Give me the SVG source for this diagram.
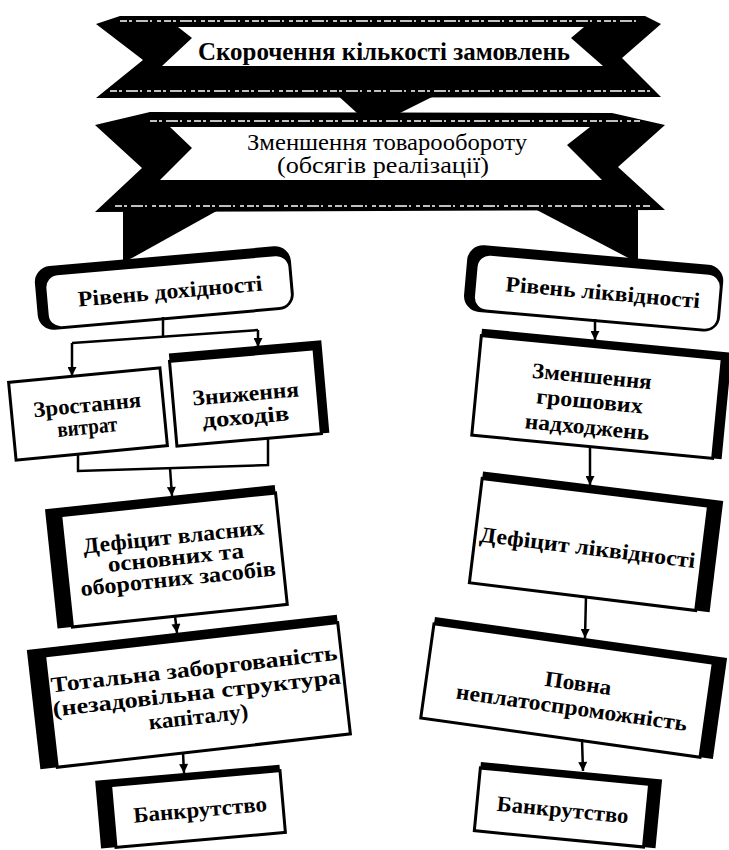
<svg xmlns="http://www.w3.org/2000/svg" width="729" height="850" viewBox="0 0 729 850">
  <defs>
    <marker id="arr" viewBox="0 0 10 10" refX="10" refY="5" markerWidth="10" markerHeight="9" markerUnits="userSpaceOnUse" orient="auto">
      <path d="M0,0 L10,5 L0,10 z" fill="#000"/>
    </marker>
    <style>
      .ink{fill:#000}
      .paper{fill:#fff;stroke:#000;stroke-width:3}
      .blank{fill:#fff}
      .speck{stroke:#fff;stroke-width:1.4;stroke-dasharray:7 2 3 4 12 2 2 5 4 3;fill:none}
      .conn{stroke:#000;stroke-width:2.5;fill:none}
      .arrow{marker-end:url(#arr)}
      text{font-family:"Liberation Serif","Times New Roman",serif;text-anchor:middle;fill:#000}
      .lbl{font-size:22px;font-weight:bold}
      .title{font-size:26px;font-weight:bold}
      .sub{font-size:23px}
    </style>
  </defs>

  <rect x="0" y="0" width="729" height="850" fill="#fff"/>

  <!-- top ribbon -->
  <g id="n-orders">
    <polygon class="ink" points="96,24 120,16 645,16 661,24 622,58 661,97 96,98 143,60"/>
    <polygon class="blank" points="178,27 584,27 571,38 603,66 162,66 192,38"/>
    <line class="speck" x1="120" y1="21" x2="640" y2="21"/>
    <line class="speck" x1="110" y1="91" x2="650" y2="91"/>
    <text class="title" x="384" y="60" textLength="372" lengthAdjust="spacingAndGlyphs">Скорочення кількості замовлень</text>
  </g>

  <!-- second ribbon with its two legs -->
  <g id="n-turnover">
    <polygon class="ink" points="123,205 222,208 132,258 123,262"/>
    <polygon class="ink" points="533,208 638,208 638,263"/>
    <polygon class="ink" points="95,125 150,112 612,113 665,125 618,167 665,210 95,212 142,168"/>
    <polygon class="blank" points="170,127 590,127 567,145 602,180 160,180 192,148"/>
    <line class="speck" x1="150" y1="121" x2="640" y2="121"/>
    <line class="speck" x1="115" y1="206" x2="650" y2="206"/>
    <text class="sub" x="387" y="150" textLength="280" lengthAdjust="spacingAndGlyphs">Зменшення товарообороту</text>
    <text class="sub" x="383" y="173" textLength="212" lengthAdjust="spacingAndGlyphs">(обсягів  реалізації)</text>
  </g>

  <!-- left branch -->
  <g id="n-profit" transform="rotate(-5 165 290)">
    <rect class="ink" x="36" y="256" width="257" height="64" rx="16"/>
    <rect class="blank" x="47" y="266" width="243" height="51" rx="12"/>
    <text class="lbl" x="170" y="299" textLength="185" lengthAdjust="spacingAndGlyphs">Рівень дохідності</text>
  </g>

  <g id="n-costs" transform="rotate(-5.5 88 414)">
    <rect class="paper" x="12" y="375" width="152" height="78"/>
    <text class="lbl" x="88" y="412" textLength="108" lengthAdjust="spacingAndGlyphs">Зростання</text>
    <text class="lbl" x="86" y="434" textLength="60" lengthAdjust="spacingAndGlyphs">витрат</text>
  </g>

  <g id="n-income" transform="rotate(-5 245.5 398)">
    <rect class="ink" x="173" y="347" width="153" height="93"/>
    <rect class="paper" x="173" y="355" width="145" height="85"/>
    <text class="lbl" x="246" y="401" textLength="107" lengthAdjust="spacingAndGlyphs">Зниження</text>
    <text class="lbl" x="244" y="424" textLength="87" lengthAdjust="spacingAndGlyphs">доходів</text>
  </g>

  <g id="n-own-funds" transform="rotate(-6 174 560)">
    <rect class="ink" x="51" y="496" width="231" height="120"/>
    <rect class="paper" x="66" y="504" width="216" height="112"/>
    <text class="lbl" x="176" y="544" textLength="182" lengthAdjust="spacingAndGlyphs">Дефіцит власних</text>
    <text class="lbl" x="176" y="565" textLength="137" lengthAdjust="spacingAndGlyphs">основних та</text>
    <text class="lbl" x="176" y="586" textLength="196" lengthAdjust="spacingAndGlyphs">оборотних засобів</text>
  </g>

  <g id="n-debt" transform="rotate(-6.5 197 695)">
    <rect class="ink" x="33" y="631" width="312" height="120"/>
    <rect class="paper" x="50" y="639" width="295" height="112"/>
    <text class="lbl" x="197" y="676" textLength="288" lengthAdjust="spacingAndGlyphs">Тотальна заборгованість</text>
    <text class="lbl" x="197" y="700" textLength="290" lengthAdjust="spacingAndGlyphs">(незадовільна структура</text>
    <text class="lbl" x="196" y="724" textLength="100" lengthAdjust="spacingAndGlyphs">капіталу)</text>
  </g>

  <g id="n-bankrupt-left" transform="rotate(-5 198 809)">
    <rect class="ink" x="98" y="772" width="185" height="68"/>
    <rect class="paper" x="113" y="778" width="170" height="62"/>
    <text class="lbl" x="200" y="817" textLength="134" lengthAdjust="spacingAndGlyphs">Банкрутство</text>
  </g>

  <!-- right branch -->
  <g id="n-liquidity" transform="rotate(5 595 290)">
    <rect class="ink" x="465" y="255" width="257" height="67" rx="16"/>
    <rect class="blank" x="476" y="265" width="243" height="54" rx="12"/>
    <text class="lbl" x="603" y="299" textLength="195" lengthAdjust="spacingAndGlyphs">Рівень ліквідності</text>
  </g>

  <g id="n-cash" transform="rotate(5.5 597 397)">
    <rect class="ink" x="476" y="340" width="251" height="107"/>
    <rect class="paper" x="476" y="347" width="242" height="100"/>
    <text class="lbl" x="590" y="384" textLength="120" lengthAdjust="spacingAndGlyphs">Зменшення</text>
    <text class="lbl" x="590" y="409" textLength="107" lengthAdjust="spacingAndGlyphs">грошових</text>
    <text class="lbl" x="590" y="435" textLength="125" lengthAdjust="spacingAndGlyphs">надходжень</text>
  </g>

  <g id="n-liq-deficit" transform="rotate(7 589 544)">
    <rect class="ink" x="475" y="485" width="242" height="112"/>
    <rect class="paper" x="475" y="492" width="228" height="105"/>
    <text class="lbl" x="588" y="555" textLength="217" lengthAdjust="spacingAndGlyphs">Дефіцит ліквідності</text>
  </g>

  <g id="n-insolvency" transform="rotate(8 574 691)">
    <rect class="ink" x="426" y="637" width="295" height="102"/>
    <rect class="paper" x="426" y="644" width="282" height="95"/>
    <text class="lbl" x="577" y="690" textLength="67" lengthAdjust="spacingAndGlyphs">Повна</text>
    <text class="lbl" x="574" y="715" textLength="233" lengthAdjust="spacingAndGlyphs">неплатоспроможність</text>
  </g>

  <g id="n-bankrupt-right" transform="rotate(5.5 562 807)">
    <rect class="ink" x="477" y="770" width="182" height="69"/>
    <rect class="paper" x="477" y="776" width="170" height="63"/>
    <text class="lbl" x="563" y="817" textLength="132" lengthAdjust="spacingAndGlyphs">Банкрутство</text>
  </g>

  <!-- connectors -->
  <g id="connectors">
    <polygon class="ink" points="335,93 440,93 400,113 357,113"/>
    <polyline class="conn" points="163,317 163,337"/>
    <line class="conn" x1="72" y1="343" x2="258" y2="330"/>
    <line class="conn arrow" x1="72" y1="343" x2="72" y2="376"/>
    <line class="conn arrow" x1="258" y1="330" x2="258" y2="347"/>
    <polyline class="conn" points="78,454 78,471 268,465 268,438"/>
    <line class="conn arrow" x1="170" y1="468" x2="172" y2="496"/>
    <line class="conn arrow" x1="175" y1="616" x2="177" y2="633"/>
    <line class="conn arrow" x1="183" y1="752" x2="184" y2="773"/>
    <line class="conn arrow" x1="595" y1="319" x2="595" y2="340"/>
    <line class="conn arrow" x1="590" y1="446" x2="590" y2="485"/>
    <line class="conn arrow" x1="586" y1="596" x2="585" y2="638"/>
    <line class="conn arrow" x1="582" y1="739" x2="583" y2="771"/>
  </g>
</svg>
